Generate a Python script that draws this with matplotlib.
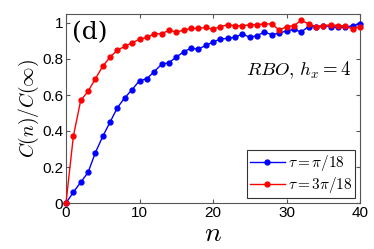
import matplotlib
matplotlib.use("Agg")
import matplotlib.pyplot as plt
import numpy as np

plt.rcParams['mathtext.fontset'] = 'cm'
plt.rcParams['font.family'] = ['Liberation Sans', 'DejaVu Sans']

n = list(range(0, 41))
blue = [0.0, 0.06, 0.115, 0.17, 0.28, 0.37, 0.45, 0.53, 0.585, 0.63, 0.68,
        0.69, 0.73, 0.77, 0.78, 0.81, 0.84, 0.86, 0.855, 0.875, 0.895,
        0.91, 0.915, 0.92, 0.94, 0.92, 0.93, 0.95, 0.935, 0.945, 0.955,
        0.965, 0.95, 0.98, 0.98, 0.985, 0.98, 0.975, 0.977, 0.985, 0.995]
red = [0.0, 0.37, 0.57, 0.62, 0.69, 0.76, 0.81, 0.85, 0.87, 0.89, 0.91,
       0.92, 0.94, 0.94, 0.96, 0.95, 0.96, 0.97, 0.97, 0.975, 0.965,
       0.98, 0.99, 0.985, 0.985, 0.99, 0.99, 0.995, 0.995, 0.96, 0.98,
       0.985, 1.015, 0.995, 0.98, 0.985, 0.99, 0.985, 0.985, 0.965, 0.98]
labels = [r'$\tau=\pi/18$', r'$\tau=3\pi/18$']
xticks = [0, 10, 20, 30, 40]
yticks = [0, 0.2, 0.4, 0.6, 0.8, 1]
yticklabels = ['0', '0.2', '0.4', '0.6', '0.8', '1']

fig = plt.figure(figsize=(3.74, 2.49), dpi=100)
ax = fig.add_axes([66/374, 1-203/249, 294/374, 189/249])
ax.plot(n, blue, '-o', color='#0000ff', lw=1.0, ms=3.5, label=labels[0], clip_on=False, zorder=3)
ax.plot(n, red, '-o', color='#ff0000', lw=1.0, ms=3.5, label=labels[1], clip_on=False, zorder=3)
ax.set_xlim(0, 40)
ax.set_ylim(0, 1.05)
ax.set_xticks(xticks)
ax.set_yticks(yticks)
ax.set_yticklabels(yticklabels)
ax.tick_params(direction='in', top=True, right=True, labelsize=11, length=3,
               color='#555555', pad=2)
for s in ax.spines.values():
    s.set_color('#555555')
    s.set_linewidth(0.8)
ax.set_xlabel(r'$n$', fontsize=20, labelpad=1)
ax.set_ylabel(r'$C(n)/C(\infty)$', fontsize=14, labelpad=1)
ax.text(0.02, 0.96, '(d)', transform=ax.transAxes, fontsize=18,
        family='DejaVu Serif', va='top', ha='left')
ax.text(0.97, 0.70, r'$RBO,\,h_x=4$', transform=ax.transAxes, fontsize=13.5,
        va='center', ha='right')
leg = ax.legend(loc='lower right', fontsize=11, frameon=True, fancybox=False,
                handlelength=2.3, handletextpad=0.2, borderpad=0.2,
                labelspacing=0.15, borderaxespad=0.3)
leg.get_frame().set_edgecolor('black')
leg.get_frame().set_linewidth(0.8)
fig.savefig('out.png', dpi=100)
